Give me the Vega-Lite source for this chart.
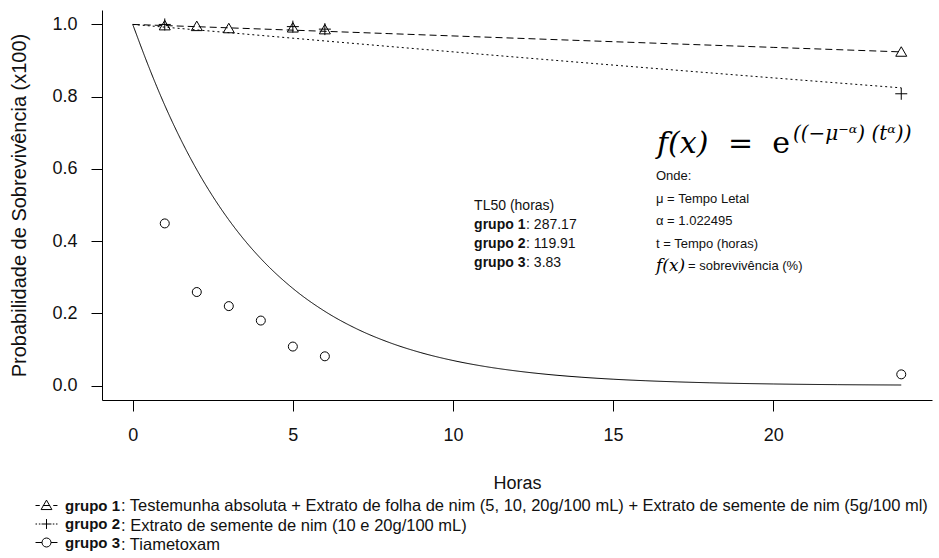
{
  "$schema": "https://vega.github.io/schema/vega-lite/v6.json",
  "width": 830,
  "height": 390,
  "autosize": {"type": "none"},
  "padding": {"left": 102, "top": 10, "right": 7, "bottom": 158},
  "background": "white",
  "config": {
    "font": "Liberation Sans",
    "view": {"stroke": null},
    "axis": {"domainColor": "black", "tickColor": "black", "labelColor": "#111", "titleColor": "#111", "grid": false, "titleFontWeight": "normal", "labelFont": "Liberation Sans", "titleFont": "Liberation Sans", "domainWidth": 1, "tickWidth": 1},
    "legend": {"labelColor": "#111", "labelFont": "Liberation Sans"}
  },
  "datasets": {
    "obs": [
      {"grupo": "grupo 1", "t": 1, "s": 0.996},
      {"grupo": "grupo 1", "t": 2, "s": 0.994},
      {"grupo": "grupo 1", "t": 3, "s": 0.988},
      {"grupo": "grupo 1", "t": 5, "s": 0.99},
      {"grupo": "grupo 1", "t": 6, "s": 0.985},
      {"grupo": "grupo 1", "t": 24, "s": 0.923},
      {"grupo": "grupo 2", "t": 1, "s": 1.0},
      {"grupo": "grupo 2", "t": 5, "s": 0.994},
      {"grupo": "grupo 2", "t": 6, "s": 0.987},
      {"grupo": "grupo 2", "t": 24, "s": 0.808},
      {"grupo": "grupo 3", "t": 1, "s": 0.449},
      {"grupo": "grupo 3", "t": 2, "s": 0.259},
      {"grupo": "grupo 3", "t": 3, "s": 0.22},
      {"grupo": "grupo 3", "t": 4, "s": 0.18},
      {"grupo": "grupo 3", "t": 5, "s": 0.108},
      {"grupo": "grupo 3", "t": 6, "s": 0.081},
      {"grupo": "grupo 3", "t": 24, "s": 0.031}
    ],
    "fit": [
      {"grupo": "grupo 1", "t": 0, "s": 1.0},
      {"grupo": "grupo 1", "t": 2, "s": 0.9938},
      {"grupo": "grupo 1", "t": 4, "s": 0.9874},
      {"grupo": "grupo 1", "t": 6, "s": 0.981},
      {"grupo": "grupo 1", "t": 8, "s": 0.9746},
      {"grupo": "grupo 1", "t": 12, "s": 0.9618},
      {"grupo": "grupo 1", "t": 16, "s": 0.9491},
      {"grupo": "grupo 1", "t": 20, "s": 0.9365},
      {"grupo": "grupo 1", "t": 24, "s": 0.924},
      {"grupo": "grupo 2", "t": 0, "s": 1.0},
      {"grupo": "grupo 2", "t": 1, "s": 0.9925},
      {"grupo": "grupo 2", "t": 2, "s": 0.9849},
      {"grupo": "grupo 2", "t": 4, "s": 0.9696},
      {"grupo": "grupo 2", "t": 6, "s": 0.9543},
      {"grupo": "grupo 2", "t": 8, "s": 0.9391},
      {"grupo": "grupo 2", "t": 12, "s": 0.9093},
      {"grupo": "grupo 2", "t": 16, "s": 0.8803},
      {"grupo": "grupo 2", "t": 20, "s": 0.852},
      {"grupo": "grupo 2", "t": 24, "s": 0.8244},
      {"grupo": "grupo 3", "t": 0, "s": 1.0},
      {"grupo": "grupo 3", "t": 0.1, "s": 0.9762},
      {"grupo": "grupo 3", "t": 0.25, "s": 0.9405},
      {"grupo": "grupo 3", "t": 0.5, "s": 0.8828},
      {"grupo": "grupo 3", "t": 0.75, "s": 0.828},
      {"grupo": "grupo 3", "t": 1, "s": 0.7762},
      {"grupo": "grupo 3", "t": 1.5, "s": 0.6815},
      {"grupo": "grupo 3", "t": 2, "s": 0.5977},
      {"grupo": "grupo 3", "t": 2.5, "s": 0.5239},
      {"grupo": "grupo 3", "t": 3, "s": 0.4589},
      {"grupo": "grupo 3", "t": 3.5, "s": 0.4017},
      {"grupo": "grupo 3", "t": 4, "s": 0.3516},
      {"grupo": "grupo 3", "t": 5, "s": 0.269},
      {"grupo": "grupo 3", "t": 6, "s": 0.2055},
      {"grupo": "grupo 3", "t": 7, "s": 0.1568},
      {"grupo": "grupo 3", "t": 8, "s": 0.1196},
      {"grupo": "grupo 3", "t": 9, "s": 0.0911},
      {"grupo": "grupo 3", "t": 10, "s": 0.0694},
      {"grupo": "grupo 3", "t": 11, "s": 0.0528},
      {"grupo": "grupo 3", "t": 12, "s": 0.0402},
      {"grupo": "grupo 3", "t": 13, "s": 0.0305},
      {"grupo": "grupo 3", "t": 14, "s": 0.0232},
      {"grupo": "grupo 3", "t": 15, "s": 0.0176},
      {"grupo": "grupo 3", "t": 16, "s": 0.0134},
      {"grupo": "grupo 3", "t": 17, "s": 0.0102},
      {"grupo": "grupo 3", "t": 18, "s": 0.0077},
      {"grupo": "grupo 3", "t": 20, "s": 0.0044},
      {"grupo": "grupo 3", "t": 22, "s": 0.0025},
      {"grupo": "grupo 3", "t": 24, "s": 0.0015}
    ],
    "groups": [
      {"grupo": "grupo 1", "desc": "Testemunha absoluta + Extrato de folha de nim (5, 10, 20g/100 mL) + Extrato de semente de nim (5g/100 ml)"},
      {"grupo": "grupo 2", "desc": "Extrato de semente de nim (10 e 20g/100 mL)"},
      {"grupo": "grupo 3", "desc": "Tiametoxam"}
    ],
    "notes": [
      {"id": "tl0", "t": 10.66, "s": 0.4975, "label": "TL50 (horas)"},
      {"id": "tl", "t": 10.66, "s": 0.445, "label": "grupo 1", "val": ": 287.17"},
      {"id": "tl", "t": 10.66, "s": 0.392, "label": "grupo 2", "val": ": 119.91"},
      {"id": "tl", "t": 10.66, "s": 0.34, "label": "grupo 3", "val": ": 3.83"},
      {"id": "f1", "t": 16.37, "s": 0.6443, "label": "f(x)"},
      {"id": "f2", "t": 16.37, "s": 0.6443, "label": "=\u00a0\u00a0e"},
      {"id": "f3", "t": 16.37, "s": 0.6443, "label": "((−μ⁻ᵅ) (tᵅ))"},
      {"id": "r", "t": 16.34, "s": 0.5806, "label": "Onde:"},
      {"id": "r", "t": 16.34, "s": 0.5169, "label": "μ = Tempo Letal"},
      {"id": "r", "t": 16.34, "s": 0.456, "label": "α = 1.022495"},
      {"id": "r", "t": 16.34, "s": 0.3922, "label": "t = Tempo (horas)"},
      {"id": "rf", "t": 16.34, "s": 0.3313, "label": "f(x)", "val": "= sobrevivência (%)"}
    ]
  },
  "encoding": {
    "x": {
      "field": "t", "type": "quantitative",
      "scale": {"domain": [-0.96, 24.96], "nice": false, "zero": false},
      "axis": {"values": [0, 5, 10, 15, 20], "title": "Horas", "titleFontSize": 18, "titlePadding": 30, "labelFontSize": 18, "labelPadding": 15, "tickSize": 11, "labelFlush": false, "labelOverlap": false}
    },
    "y": {
      "field": "s", "type": "quantitative",
      "scale": {"domain": [-0.04, 1.04], "nice": false, "zero": false},
      "axis": {"values": [0, 0.2, 0.4, 0.6, 0.8, 1.0], "format": ".1f", "title": "Probabilidade de Sobrevivência (x100)", "titleFontSize": 20, "titlePadding": 22, "labelFontSize": 18, "labelPadding": 14, "tickSize": 11, "labelFlush": false, "labelOverlap": false}
    }
  },
  "layer": [
    {
      "data": {"name": "fit"},
      "mark": {"type": "line", "color": "black", "strokeWidth": 1, "interpolate": "monotone"},
      "encoding": {
        "strokeDash": {"field": "grupo", "type": "nominal", "scale": {"domain": ["grupo 1", "grupo 2", "grupo 3"], "range": [[7, 4], [2, 3], [1, 0]]}, "legend": null}
      }
    },
    {
      "data": {"name": "obs"},
      "mark": {"type": "point", "filled": false, "color": "black", "strokeWidth": 1, "size": 100, "opacity": 1},
      "encoding": {
        "shape": {"field": "grupo", "type": "nominal", "scale": {"domain": ["grupo 1", "grupo 2", "grupo 3"], "range": ["M0,-1.1L1.1,0.8L-1.1,0.8Z", "M-1.2,0L1.2,0M0,-1.2L0,1.2", "M0.9,0A0.9,0.9,0,1,1,-0.9,0A0.9,0.9,0,1,1,0.9,0Z"]}, "legend": null}
      }
    },
    {
      "data": {"name": "groups"},
      "mark": {"type": "point", "filled": false, "color": "black", "strokeWidth": 1, "opacity": 1},
      "encoding": {
        "shape": {"field": "grupo", "type": "nominal",
          "scale": {"domain": ["grupo 1", "grupo 2", "grupo 3"], "range": [
            "M-1.22,0L-0.75,0M-0.4,0L0.4,0M0.75,0L1.22,0M0,-0.6L0.6,0.45L-0.6,0.45Z",
            "M-1.22,0L-1.05,0M-0.85,0L-0.68,0M-0.55,0L0.55,0M0,-0.55L0,0.55M0.7,0L0.87,0M1.05,0L1.22,0",
            "M-1.22,0L-0.5,0M0.5,0L1.22,0M0.5,0A0.5,0.5,0,1,1,-0.5,0A0.5,0.5,0,1,1,0.5,0Z"
          ]},
          "legend": {"orient": "none", "legendX": -65, "legendY": 486, "direction": "vertical", "title": null, "padding": 0, "symbolSize": 324, "symbolStrokeWidth": 1, "symbolStrokeColor": "black", "symbolFillColor": "transparent", "labelFontSize": 15, "labelFontWeight": "bold", "labelOffset": 9, "rowPadding": 0.5, "labelLimit": 0}
        }
      }
    },
    {
      "data": {"name": "groups"},
      "mark": {"type": "point", "filled": false, "opacity": 1},
      "encoding": {
        "color": {"field": "desc", "type": "nominal",
          "scale": {"domain": [
            "Testemunha absoluta + Extrato de folha de nim (5, 10, 20g/100 mL) + Extrato de semente de nim (5g/100 ml)",
            "Extrato de semente de nim (10 e 20g/100 mL)",
            "Tiametoxam"
          ], "range": ["transparent", "transparent", "transparent"]},
          "legend": {"orient": "none", "legendX": -1, "legendY": 486, "direction": "vertical", "title": null, "padding": 0, "symbolSize": 324, "symbolOpacity": 0, "labelFontSize": 16.5, "labelOffset": 0, "rowPadding": 0.5, "labelLimit": 0, "labelExpr": "': ' + datum.label"}
        }
      }
    },
    {
      "data": {"name": "notes"},
      "transform": [{"filter": "datum.id === 'tl0'"}],
      "mark": {"type": "text", "align": "left", "baseline": "middle", "fontSize": 14, "color": "#111"},
      "encoding": {"text": {"field": "label"}}
    },
    {
      "data": {"name": "notes"},
      "transform": [{"filter": "datum.id === 'tl'"}],
      "mark": {"type": "text", "align": "left", "baseline": "middle", "fontSize": 14, "fontWeight": "bold", "color": "#111"},
      "encoding": {"text": {"field": "label"}}
    },
    {
      "data": {"name": "notes"},
      "transform": [{"filter": "datum.id === 'tl'"}],
      "mark": {"type": "text", "align": "left", "baseline": "middle", "fontSize": 14, "dx": 52, "color": "#111"},
      "encoding": {"text": {"field": "val"}}
    },
    {
      "data": {"name": "notes"},
      "transform": [{"filter": "datum.id === 'f1'"}],
      "mark": {"type": "text", "align": "left", "baseline": "alphabetic", "font": "DejaVu Serif", "fontStyle": "italic", "fontSize": 30, "color": "black"},
      "encoding": {"text": {"field": "label"}}
    },
    {
      "data": {"name": "notes"},
      "transform": [{"filter": "datum.id === 'f2'"}],
      "mark": {"type": "text", "align": "left", "baseline": "alphabetic", "font": "DejaVu Serif", "fontSize": 30, "dx": 71, "color": "black"},
      "encoding": {"text": {"field": "label"}}
    },
    {
      "data": {"name": "notes"},
      "transform": [{"filter": "datum.id === 'f3'"}],
      "mark": {"type": "text", "align": "left", "baseline": "alphabetic", "font": "DejaVu Serif", "fontStyle": "italic", "fontSize": 20, "dx": 136, "dy": -13, "color": "black"},
      "encoding": {"text": {"field": "label"}}
    },
    {
      "data": {"name": "notes"},
      "transform": [{"filter": "datum.id === 'r'"}],
      "mark": {"type": "text", "align": "left", "baseline": "middle", "fontSize": 13, "color": "#111"},
      "encoding": {"text": {"field": "label"}}
    },
    {
      "data": {"name": "notes"},
      "transform": [{"filter": "datum.id === 'rf'"}],
      "mark": {"type": "text", "align": "left", "baseline": "middle", "font": "DejaVu Serif", "fontStyle": "italic", "fontSize": 17, "color": "black"},
      "encoding": {"text": {"field": "label"}}
    },
    {
      "data": {"name": "notes"},
      "transform": [{"filter": "datum.id === 'rf'"}],
      "mark": {"type": "text", "align": "left", "baseline": "middle", "fontSize": 13, "dx": 32, "color": "#111"},
      "encoding": {"text": {"field": "val"}}
    }
  ],
  "resolve": {"scale": {"shape": "independent"}, "legend": {"shape": "independent"}}
}
